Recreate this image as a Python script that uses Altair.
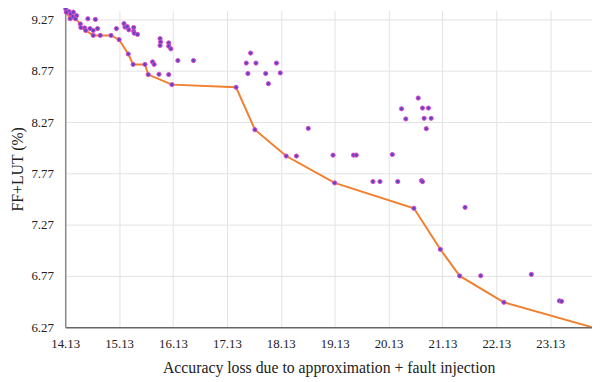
import altair as alt
import pandas as pd

# All design points (accuracy loss, FF+LUT %)
x_all = [14.14, 14.20, 14.15, 14.23, 14.28, 14.34, 14.27, 14.22, 14.32, 14.55, 14.69,
         14.41, 14.42, 14.49, 14.51, 14.59, 14.65, 14.73, 14.65, 14.78, 14.98, 15.08, 15.13,
         15.22, 15.24, 15.28, 15.31, 15.40, 15.40, 15.41, 15.47,
         15.30, 15.39, 15.61, 15.67, 15.75, 15.78, 15.87, 16.05, 16.11,
         15.89, 15.90, 15.89, 16.05, 16.05, 16.09, 16.22, 16.51,
         17.30, 17.57, 17.49, 17.67, 18.05, 17.52, 17.85, 18.12, 17.90, 17.65,
         18.64, 18.23, 18.42, 19.10, 19.48, 19.53, 20.20,
         19.13, 19.84, 19.97, 20.30, 20.74, 20.76,
         20.68, 20.37, 20.76, 20.87, 20.45, 20.79, 20.92, 20.83,
         20.60, 21.55, 21.09, 21.45, 21.84, 22.27, 22.78, 23.30, 23.34]
y_all = [9.375, 9.35, 9.344, 9.327, 9.344, 9.31, 9.30, 9.28, 9.28, 9.28, 9.273,
         9.229, 9.194, 9.19, 9.165, 9.184, 9.165, 9.184, 9.117, 9.117, 9.117, 9.184, 9.076,
         9.232, 9.198, 9.203, 9.172, 9.194, 9.158, 9.139, 9.127,
         8.936, 8.834, 8.834, 8.735, 8.859, 8.834, 8.738, 8.735, 8.637,
         9.086, 9.053, 9.019, 9.044, 9.012, 8.986, 8.872, 8.872,
         8.611, 8.945, 8.847, 8.847, 8.847, 8.745, 8.745, 8.751, 8.646, 8.197,
         8.21, 7.94, 7.94, 7.949, 7.949, 7.949, 7.955,
         7.678, 7.691, 7.691, 7.691, 7.70, 7.69,
         8.506, 8.401, 8.408, 8.408, 8.302, 8.308, 8.308, 8.207,
         7.43, 7.439, 7.03, 6.77, 6.772, 6.513, 6.785, 6.527, 6.522]

# Pareto front
front_x = [14.15, 14.22, 14.32, 14.41, 14.42, 14.51, 14.65, 14.98, 15.13, 15.30, 15.39,
           15.61, 15.67, 16.11, 17.30, 17.65, 18.23, 19.13, 20.60, 21.09, 21.45, 22.27, 23.905]
front_y = [9.344, 9.28, 9.28, 9.229, 9.194, 9.165, 9.117, 9.117, 9.076, 8.936, 8.834,
           8.834, 8.735, 8.637, 8.611, 8.197, 7.94, 7.678, 7.43, 7.03, 6.77, 6.513, 6.27]

x_ticks = [14.13, 15.13, 16.13, 17.13, 18.13, 19.13, 20.13, 21.13, 22.13, 23.13]
y_ticks = [6.27, 6.77, 7.27, 7.77, 8.27, 8.77, 9.27]

pts = pd.DataFrame({"x": x_all, "y": y_all})
front = pd.DataFrame({"x": front_x, "y": front_y, "o": list(range(len(front_x)))})

FONT = "Liberation Serif"
xs = alt.Scale(domain=[14.13, 23.905], nice=False, zero=False)
ys = alt.Scale(domain=[6.27, 9.36], nice=False, zero=False)

xaxis = alt.Axis(values=x_ticks, format=".2f", title="Accuracy loss due to approximation + fault injection",
                 grid=True, ticks=False, labelPadding=11, labelFlush=False,
                 domainColor="#666666", domainWidth=1.5, titlePadding=9)
yaxis = alt.Axis(values=y_ticks, format=".2f", title="FF+LUT (%)",
                 grid=True, ticks=False, labelPadding=12, labelFlush=False,
                 domainColor="#888888", domainWidth=1.5, titlePadding=6)

line = alt.Chart(front).mark_line(color="#F07F2E", strokeWidth=2, clip=True).encode(
    x=alt.X("x:Q", scale=xs, axis=xaxis),
    y=alt.Y("y:Q", scale=ys, axis=yaxis),
    order="o:Q",
)
dots = alt.Chart(pts).mark_point(filled=True, shape="circle", size=18, fill="#5E45C2",
                                 stroke="#E04AC8", strokeWidth=1, opacity=1).encode(
    x=alt.X("x:Q", scale=xs),
    y=alt.Y("y:Q", scale=ys),
)

chart = alt.layer(line, dots).properties(
    width=534, height=321,
    padding={"left": 58, "top": 0, "right": 0, "bottom": 53},
    autosize=alt.AutoSizeParams(type="none"),
).configure_view(stroke=None).configure_axis(
    labelFont=FONT, labelFontSize=13, labelColor="#222222",
    titleFont=FONT, titleFontSize=16, titleFontWeight="normal", titleColor="#222222",
    gridColor="#e3e3e3",
)

chart.save("out.html", embed_options={"renderer": "svg", "actions": False})
